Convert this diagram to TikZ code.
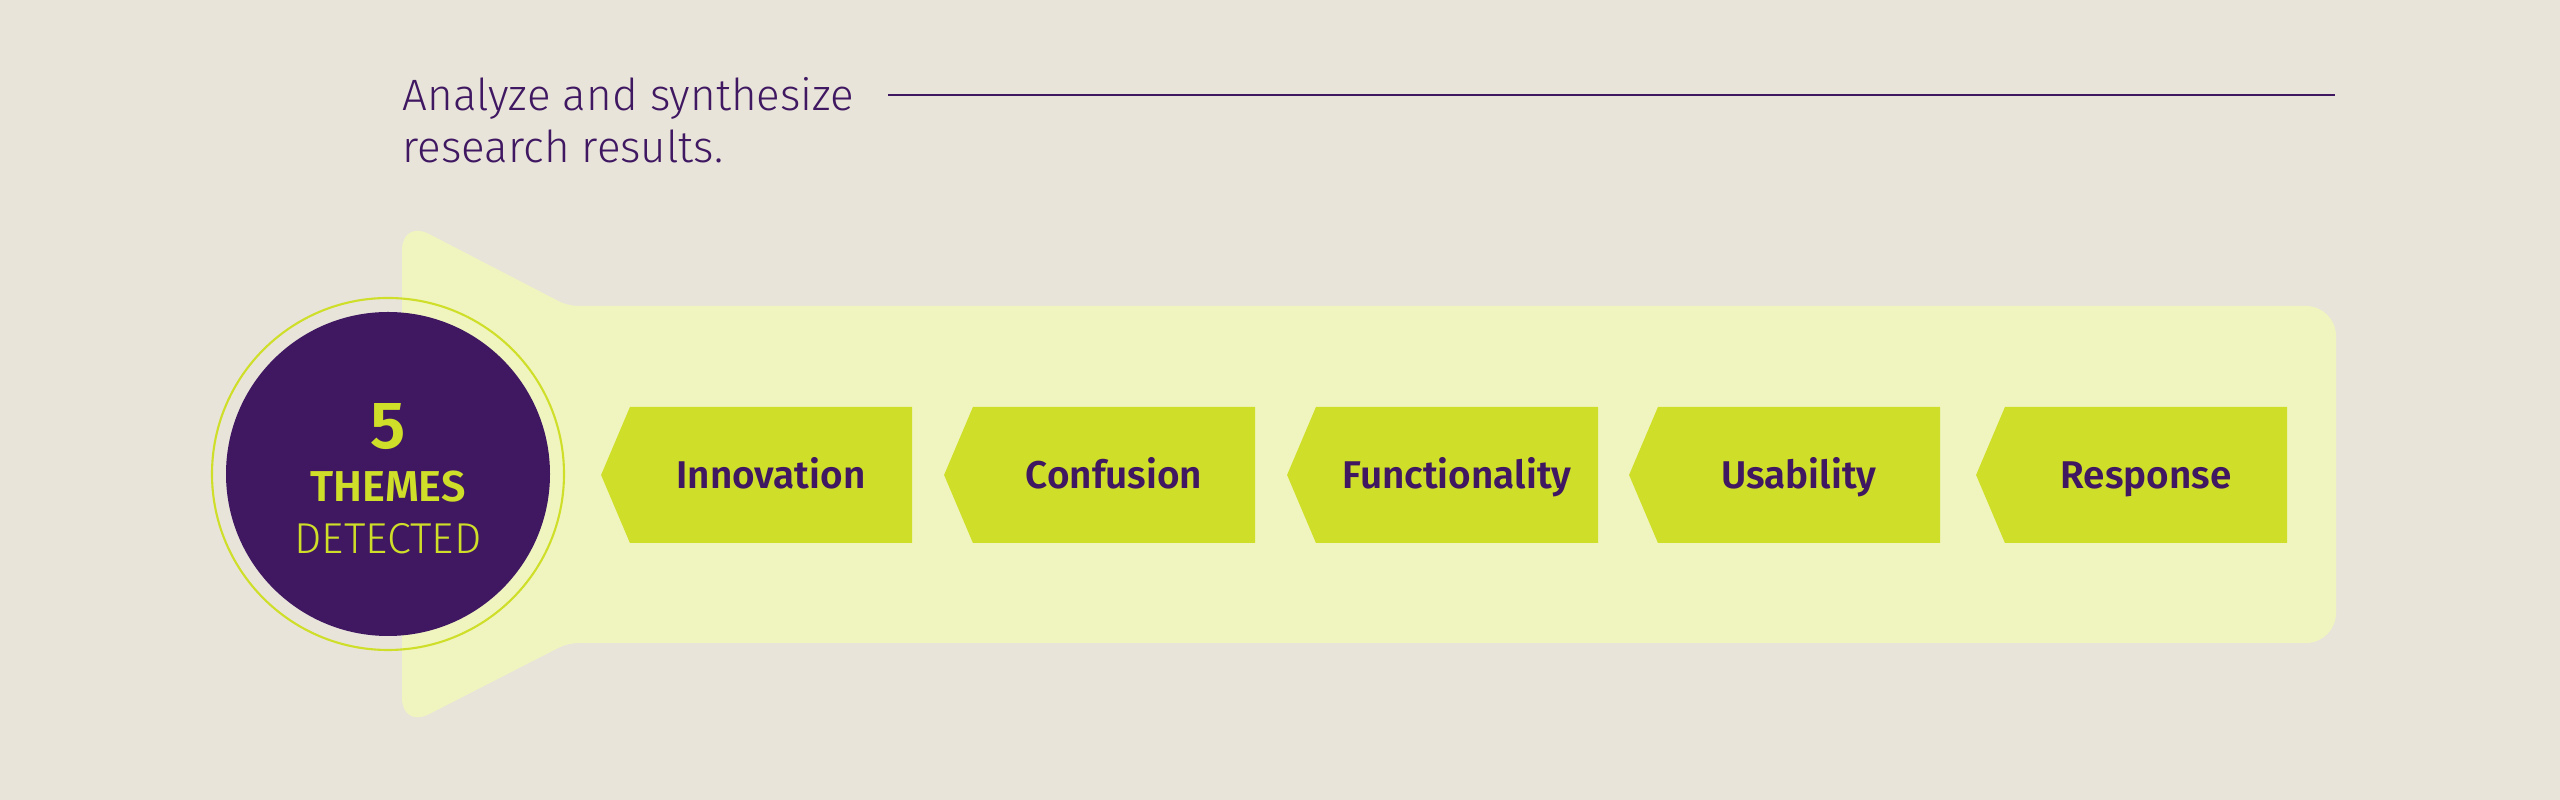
\documentclass[tikz,border=0pt]{standalone}
\usepackage{fontspec}
\setmainfont{Fira Sans}
\newfontfamily\lightfont{Fira Sans Light}
\newfontfamily\boldfont{Fira Sans SemiBold}
\usetikzlibrary{shapes.symbols}
\definecolor{paper}{HTML}{E8E4DA}
\definecolor{pale}{HTML}{F0F5C0}
\definecolor{lime}{HTML}{CFDE28}
\definecolor{plum}{HTML}{401862}
\tikzset{
    theme/.style={signal, signal to=west, signal pointer angle=134, fill=lime, minimum width=3.11cm, minimum height=1.36cm, inner sep=0pt, text height=7.6pt, text depth=0pt, text=plum, font=\boldfont\fontsize{11}{13}\selectfont},
    hub/.style={circle, fill=plum, minimum size=3.24cm, inner sep=0pt},
    hubtext/.style={align=center, inner sep=0pt, text=lime, font=\fontsize{12.3}{15}\selectfont},
    ring/.style={circle, draw=lime, line width=0.6pt, minimum size=3.52cm, inner sep=0pt},
    title/.style={align=left, inner sep=0pt, text=plum, font=\lightfont\fontsize{12.5}{14.8}\selectfont},
    rule/.style={-, draw=plum, line width=0.6pt},
}

\begin{document}
\begin{tikzpicture}
    \fill[paper] (0,0) rectangle (25.6,8);
    \useasboundingbox (0,0) rectangle (25.6,8);
    \fill[pale, rounded corners=0.3cm] (4.02,5.80) [rounded corners=0.1cm] -- (5.68,4.94) [rounded corners=0.3cm] -- (23.36,4.94) -- (23.36,1.57) [rounded corners=0.1cm] -- (5.68,1.57) [rounded corners=0.3cm] -- (4.02,0.72) -- cycle;
    \node[title, anchor=base west] (title) at (4.02,6.37) {Analyze and synthesize\\research results.};
    \coordinate (rulestart) at (8.88,7.05);
    \coordinate (ruleend) at (23.35,7.05);
    \draw[rule] (rulestart) -- (ruleend);
    \node[ring] (ring) at (3.88,3.26) {};
    \node[hub] (hub) at (3.88,3.26) {};
    \node[hubtext] (count) at (3.88,3.21) {{\boldfont\fontsize{19}{15}\selectfont 5}\\{\boldfont THEMES}\\{\lightfont DETECTED}};
    \node[theme] (innovation) at (7.71,3.25) {Innovation};
    \node[theme] (confusion) at (11.14,3.25) {Confusion};
    \node[theme] (functionality) at (14.57,3.25) {Functionality};
    \node[theme] (usability) at (17.99,3.25) {Usability};
    \node[theme] (response) at (21.46,3.25) {Response};
\end{tikzpicture}
\end{document}
